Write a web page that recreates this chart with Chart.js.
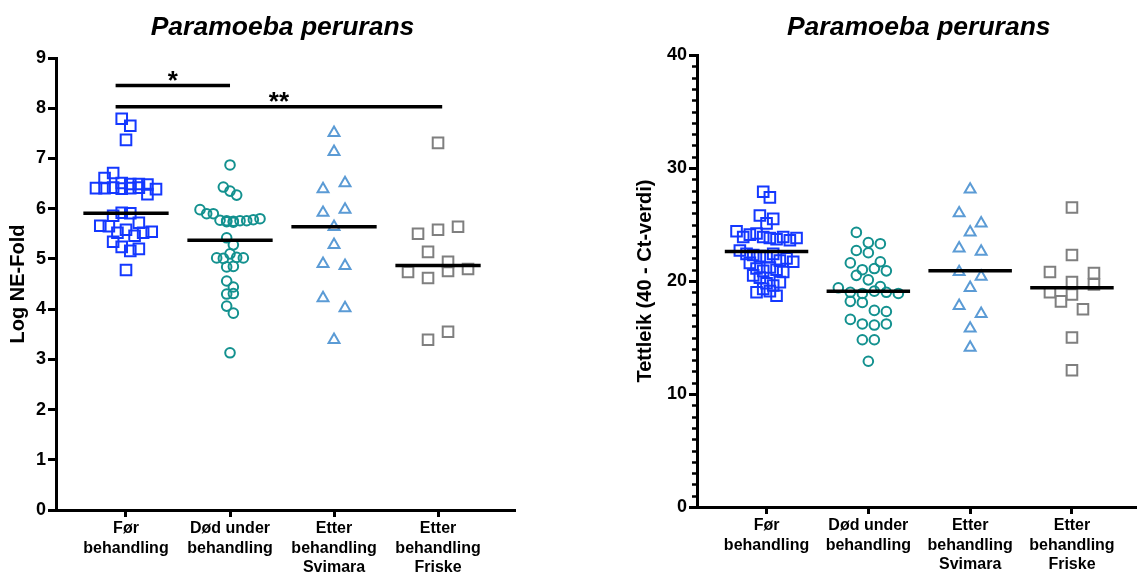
<!DOCTYPE html>
<html>
<head>
<meta charset="utf-8">
<script src="https://cdn.jsdelivr.net/npm/chart.js@4"></script>
<style>
    html, body { margin: 0; padding: 0; background: #fff; }
    #wrap { position: relative; width: 1146px; height: 577px; overflow: hidden; }
    #left { position: absolute; left: 0; top: 0; }
    #right { position: absolute; left: 632px; top: 0; }
</style>
</head>
<body>
<div id="wrap">
    <canvas id="left" width="575" height="577"></canvas>
    <canvas id="right" width="514" height="577"></canvas>
</div>
<script>
    // categories
    var groups = [
        ['Før', 'behandling'],
        ['Død under', 'behandling'],
        ['Etter', 'behandling', 'Svimara'],
        ['Etter', 'behandling', 'Friske']
    ];
    var groupColors = ['#1438ff', '#13918f', '#5b9bd5', '#7f7f7f'];
    var groupShapes = ['rect', 'circle', 'triangle', 'rect'];

    // Log NE-Fold (left panel)
    var neFoldFor = [7.79, 7.65, 7.37, 6.61, 6.71, 6.41, 6.41, 6.42, 6.40, 6.41, 6.42, 6.29, 6.51, 6.49, 6.49, 6.48, 6.39,
        5.86, 5.92, 5.91, 5.72, 5.66, 5.65, 5.52, 5.58, 5.46, 5.52, 5.54, 5.34, 5.24, 5.16, 5.20, 4.78];
    var neFoldDod = [6.87, 6.43, 6.35, 6.27, 5.98, 5.90, 5.90, 5.77, 5.76, 5.75, 5.76, 5.74, 5.73, 5.76, 5.78, 5.80,
        5.42, 5.28, 5.02, 5.01, 5.10, 5.03, 5.02, 4.84, 4.85, 4.56, 4.44, 4.30, 4.31, 4.06, 3.92, 3.13];
    var neFoldSvimara = [7.51, 7.13, 6.39, 6.51, 5.92, 5.98, 5.64, 5.28, 4.90, 4.86, 4.22, 4.02, 3.39];
    var neFoldFriske = [7.31, 5.50, 5.58, 5.64, 5.14, 4.94, 4.74, 4.62, 4.76, 4.80, 3.39, 3.55];
    var neFoldLines = [5.91, 5.37, 5.64, 4.87];

    // Tettleik (right panel)
    var ctFor = [27.9, 27.4, 25.8, 25.1, 25.5, 24.4, 23.9, 24.1, 24.2, 23.9, 23.8, 23.7, 23.9, 23.6, 23.8,
        22.7, 22.4, 22.3, 22.2, 22.1, 22.4, 21.8, 21.6, 22.0, 21.7, 21.1, 20.9, 21.2, 21.0, 20.8,
        20.5, 20.3, 19.8, 19.6, 19.9, 19.0, 19.3, 19.1, 18.7];
    var ctDod = [24.3, 23.4, 23.3, 22.7, 22.5, 21.6, 21.7, 20.5, 21.0, 21.1, 20.9, 20.1, 19.5, 19.4,
        19.0, 18.9, 19.1, 19.0, 18.9, 18.2, 18.1, 17.4, 17.3, 16.6, 16.2, 16.1, 16.2, 14.8, 14.8, 12.9];
    var ctSvimara = [28.1, 26.0, 25.1, 24.3, 22.9, 22.6, 20.8, 20.4, 19.4, 17.8, 17.1, 15.8, 14.1];
    var ctFriske = [26.5, 22.3, 20.8, 19.9, 20.7, 19.0, 18.8, 19.7, 18.2, 17.5, 15.0, 12.1];
    var ctLines = [22.6, 19.1, 20.9, 19.4];

    // significance bars on the left panel
    var sigBars = [
        { from: 0.9, to: 2.0, y: 8.45, label: '*' },
        { from: 0.9, to: 4.04, y: 8.03, label: '**' }
    ];

    var FONT = '"Liberation Sans", Arial, sans-serif';
    Chart.defaults.font.family = FONT;
    Chart.defaults.color = '#000';

    var ROW_PX = 12;     // points closer than this share a row
    var SPREAD_PX = 60;  // widest row
    var MAX_STEP = 22;

    /**
     * Lays the values of one group out in rows, the way a column scatter plot does.
     */
    function buildSwarm(values, center, xScale, yScale) {
        var pxY = Math.abs(yScale.getPixelForValue(1) - yScale.getPixelForValue(0));
        var pxX = Math.abs(xScale.getPixelForValue(1) - xScale.getPixelForValue(0));
        var order = values.map(function (v, i) { return i; })
            .sort(function (a, b) { return values[b] - values[a]; });
        var rows = [], row = null;
        order.forEach(function (i) {
            if (!row || (values[row[0]] - values[i]) * pxY > ROW_PX) {
                row = [i];
                rows.push(row);
            } else {
                row.push(i);
            }
        });
        var maxRow = Math.max.apply(null, rows.map(function (r) { return r.length; }));
        var step = maxRow > 1 ? Math.min(MAX_STEP, SPREAD_PX / (maxRow - 1)) : 0;
        var pts = [];
        rows.forEach(function (r) {
            r.sort(function (a, b) { return a - b; });
            r.forEach(function (idx, k) {
                pts.push({ x: center + (k - (r.length - 1) / 2) * step / pxX, y: values[idx] });
            });
        });
        return pts;
    }

    var panelPlugin = {
        id: 'panel',
        afterDraw: function (chart, args, opts) {
            var ctx = chart.ctx, area = chart.chartArea;
            var xs = chart.scales.x, ys = chart.scales.y;
            ctx.save();
            ctx.fillStyle = '#000';
            ctx.strokeStyle = '#000';
            ctx.font = 'italic bold 26.5px ' + FONT;
            ctx.textAlign = 'center';
            ctx.textBaseline = 'alphabetic';
            ctx.fillText(opts.title, (area.left + area.right) / 2 + opts.titleShift, 35);

            // minor ticks
            if (opts.minorStep) {
                ctx.lineWidth = 2.5;
                for (var v = ys.min; v <= ys.max; v += opts.minorStep) {
                    if (v % 10 === 0) continue;
                    var py = Math.round(ys.getPixelForValue(v)) + 0.5;
                    ctx.beginPath();
                    ctx.moveTo(area.left - 5, py);
                    ctx.lineTo(area.left, py);
                    ctx.stroke();
                }
            }

            (opts.sigBars || []).forEach(function (b) {
                var py = ys.getPixelForValue(b.y);
                var x1 = xs.getPixelForValue(b.from), x2 = xs.getPixelForValue(b.to);
                ctx.lineWidth = 3.5;
                ctx.beginPath();
                ctx.moveTo(x1, py);
                ctx.lineTo(x2, py);
                ctx.stroke();
                ctx.font = 'bold 26px ' + FONT;
                ctx.fillText(b.label, (x1 + x2) / 2, py + 3.5);
            });
            ctx.restore();
        }
    };

    function makePanel(canvas, cfg) {
        var datasets = [];
        cfg.series.forEach(function (vals, g) {
            datasets.push({
                type: 'scatter',
                data: vals.map(function (v) { return { x: g + 1, y: v }; }),
                pointStyle: groupShapes[g],
                pointRadius: cfg.radius[g],
                pointBorderWidth: 2,
                borderColor: groupColors[g],
                backgroundColor: 'rgba(0,0,0,0)',
                clip: false,
                order: 1
            });
        });
        cfg.lines.forEach(function (m, g) {
            datasets.push({
                type: 'line',
                data: [{ x: g + 1 - 0.41, y: m }, { x: g + 1 + 0.41, y: m }],
                borderColor: '#000',
                borderWidth: 3.5,
                pointRadius: 0,
                clip: false,
                order: 0
            });
        });

        var tickGrid = {
            drawOnChartArea: false,
            drawTicks: true,
            tickLength: 8,
            tickWidth: 3,
            tickColor: '#000'
        };

        var chart = new Chart(canvas, {
            type: 'scatter',
            data: { datasets: datasets },
            options: {
                responsive: false,
                animation: false,
                events: [],
                layout: { padding: { top: cfg.top, right: cfg.right, left: 0, bottom: 0 } },
                plugins: {
                    legend: { display: false },
                    tooltip: { enabled: false },
                    panel: {
                        title: 'Paramoeba perurans',
                        titleShift: cfg.titleShift,
                        sigBars: cfg.sigBars,
                        minorStep: cfg.minorStep
                    }
                },
                scales: {
                    x: {
                        type: 'linear',
                        min: cfg.xMin,
                        max: cfg.xMax,
                        afterBuildTicks: function (scale) {
                            scale.ticks = [1, 2, 3, 4].map(function (v) { return { value: v }; });
                        },
                        afterFit: function (scale) { scale.height = cfg.xHeight; },
                        ticks: {
                            autoSkip: false,
                            maxRotation: 0,
                            padding: 2,
                            color: '#000',
                            font: { size: 16, weight: 'bold', lineHeight: 1.22 },
                            callback: function (v) { return groups[v - 1]; }
                        },
                        grid: Object.assign({}, tickGrid, { tickLength: 7 }),
                        border: { color: '#000', width: 3 }
                    },
                    y: {
                        min: 0,
                        max: cfg.yMax,
                        afterFit: function (scale) { scale.width = cfg.yWidth; },
                        ticks: {
                            stepSize: cfg.yStep,
                            padding: 2,
                            color: '#000',
                            font: { size: 18, weight: 'bold' }
                        },
                        grid: tickGrid,
                        border: { color: '#000', width: 3 },
                        title: {
                            display: true,
                            text: cfg.yTitle,
                            color: '#000',
                            padding: { top: cfg.titlePad, bottom: 0 },
                            font: { size: 20, weight: 'bold' }
                        }
                    }
                }
            },
            plugins: [panelPlugin]
        });

        cfg.series.forEach(function (vals, g) {
            chart.data.datasets[g].data = buildSwarm(vals, g + 1, chart.scales.x, chart.scales.y);
        });
        chart.update('none');
        return chart;
    }

    makePanel(document.getElementById('left'), {
        series: [neFoldFor, neFoldDod, neFoldSvimara, neFoldFriske],
        lines: neFoldLines,
        radius: [7.5, 4.8, 6.3, 7.5],
        sigBars: sigBars,
        yTitle: 'Log NE-Fold',
        yMax: 9,
        yStep: 1,
        yWidth: 56,
        xHeight: 67,
        xMin: 0.327,
        xMax: 4.74,
        top: 58,
        right: 60,
        titlePad: 6,
        titleShift: -3
    });

    makePanel(document.getElementById('right'), {
        series: [ctFor, ctDod, ctSvimara, ctFriske],
        lines: ctLines,
        radius: [7.5, 4.8, 6.3, 7.5],
        minorStep: 1,
        yTitle: 'Tettleik (40 - Ct-verdi)',
        yMax: 40,
        yStep: 10,
        yWidth: 65,
        xHeight: 70,
        xMin: 0.317,
        xMax: 4.634,
        top: 55,
        right: 0,
        titlePad: 1,
        titleShift: 2
    });
</script>
</body>
</html>
